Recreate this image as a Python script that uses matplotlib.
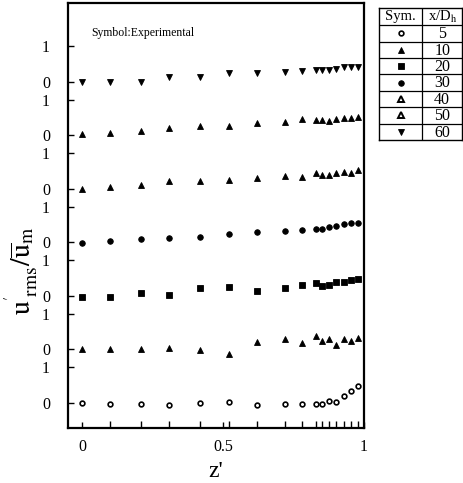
import numpy as np
import matplotlib
matplotlib.use("Agg")
import matplotlib.pyplot as plt

plt.rcParams["font.family"] = ["Liberation Serif", "DejaVu Serif"]
plt.rcParams["mathtext.fontset"] = "stix"

# ===== Data =====
z = [0.0, 0.10, 0.21, 0.31, 0.42, 0.52, 0.62, 0.72,
     0.78, 0.83, 0.85, 0.875, 0.90, 0.93, 0.955, 0.98]

xD = [5, 10, 20, 30, 40, 50, 60]

u5 = [0.00, -0.02, -0.02, -0.05, 0.00, 0.02, -0.05, -0.02,
      -0.02, -0.03, -0.03, 0.05, 0.02, 0.19, 0.33, 0.47]
u10 = [0.00, 0.02, 0.02, 0.04, -0.01, -0.14, 0.21, 0.30,
       0.19, 0.37, 0.25, 0.30, 0.11, 0.30, 0.23, 0.32]
u20 = [-0.04, -0.04, 0.07, 0.03, 0.23, 0.26, 0.15, 0.23,
       0.31, 0.35, 0.28, 0.31, 0.38, 0.40, 0.45, 0.47]
u30 = [-0.02, 0.03, 0.09, 0.12, 0.16, 0.23, 0.28, 0.33,
       0.36, 0.37, 0.37, 0.42, 0.47, 0.51, 0.53, 0.54]
u40 = [0.00, 0.06, 0.10, 0.21, 0.21, 0.24, 0.29, 0.35,
       0.34, 0.45, 0.40, 0.40, 0.45, 0.48, 0.45, 0.52]
u50 = [0.03, 0.07, 0.12, 0.20, 0.26, 0.26, 0.35, 0.37,
       0.45, 0.43, 0.43, 0.40, 0.47, 0.49, 0.49, 0.52]
u60 = [0.00, -0.02, 0.00, 0.14, 0.14, 0.24, 0.25, 0.28,
       0.30, 0.33, 0.33, 0.33, 0.35, 0.41, 0.42, 0.42]

series = [u5, u10, u20, u30, u40, u50, u60]
offset = 1.5  # vertical shift between profiles

# marker styles: (marker, size, facecolor, edgewidth)
styles = [
    ("o", 3.4, "white", 1.2),
    ("^", 4.4, "k", 0.6),
    ("s", 3.8, "k", 0.6),
    ("o", 4.0, "k", 0.6),
    ("^", 4.4, "k", 0.6),
    ("^", 4.4, "k", 0.6),
    ("v", 4.4, "k", 0.6),
]

fig = plt.figure(figsize=(4.63, 4.83), dpi=100)
ax = fig.add_axes([0.147, 0.114, 0.639, 0.880])

for i, (vals, st) in enumerate(zip(series, styles)):
    m, ms, fc, mew = st
    ax.plot(z, np.array(vals) + i * offset, linestyle="none", marker=m,
            markersize=ms, markerfacecolor=fc, markeredgecolor="k",
            markeredgewidth=mew)

ax.set_xlim(-0.05, 1.0)
ax.set_ylim(-0.70, 11.21)

yt = []
ylab = []
for i in range(len(series)):
    yt += [i * offset, i * offset + 1]
    ylab += ["0", "1"]
ax.set_yticks(yt)
ax.set_yticklabels(ylab, fontsize=11.5)
ax.set_xticks([0, 0.5, 1])
ax.set_xticklabels(["0", "0.5", "1"], fontsize=11.5)
ax.set_xticks(z, minor=True)
ax.tick_params(axis="both", which="both", direction="in", length=4,
               width=1)
ax.tick_params(axis="y", pad=13)
ax.tick_params(axis="x", pad=8)
ax.tick_params(axis="x", which="minor", length=5)
for s in ax.spines.values():
    s.set_linewidth(1.6)

ax.set_xlabel("z'", fontsize=17, labelpad=4)
ax.set_ylabel(r"$\mathrm{u}^{'}_{\ \mathrm{rms}}/\overline{\mathrm{u}}_{\mathrm{m}}$",
              fontsize=20)
ax.yaxis.set_label_coords(-0.09, 0.37)
ax.text(0.08, 0.93, "Symbol:Experimental", transform=ax.transAxes,
        fontsize=8.5, ha="left", va="center")

# ===== legend table =====
tb = fig.add_axes([0.819, 0.710, 0.179, 0.273])
nrow = len(xD)
hdr = 1.04
tb.set_xlim(0, 1)
tb.set_ylim(0, nrow + hdr)
tb.set_xticks([])
tb.set_yticks([])
for s in tb.spines.values():
    s.set_linewidth(1.0)
col = 0.52
tb.axvline(col, color="k", lw=0.9)
for r in range(1, nrow + 1):
    tb.axhline(r, color="k", lw=0.9)
tb.text(col / 2, nrow + hdr / 2, "Sym.", ha="center", va="center", fontsize=10.5)
tb.text((1 + col) / 2, nrow + hdr / 2, r"x/D$_{\mathrm{h}}$", ha="center",
        va="center", fontsize=10.5)
for i, (v, st) in enumerate(zip(xD, styles)):
    yc = nrow - i - 0.5
    m, ms, fc, mew = st
    if i in (4, 5):
        fc, mew = "white", 1.4
    tb.plot([col / 2], [yc], linestyle="none", marker=m, markersize=ms,
            markerfacecolor=fc, markeredgecolor="k", markeredgewidth=mew)
    tb.text((1 + col) / 2, yc - 0.05, str(v), ha="center", va="center",
            fontsize=11.5)

fig.savefig("out.png", dpi=100)
